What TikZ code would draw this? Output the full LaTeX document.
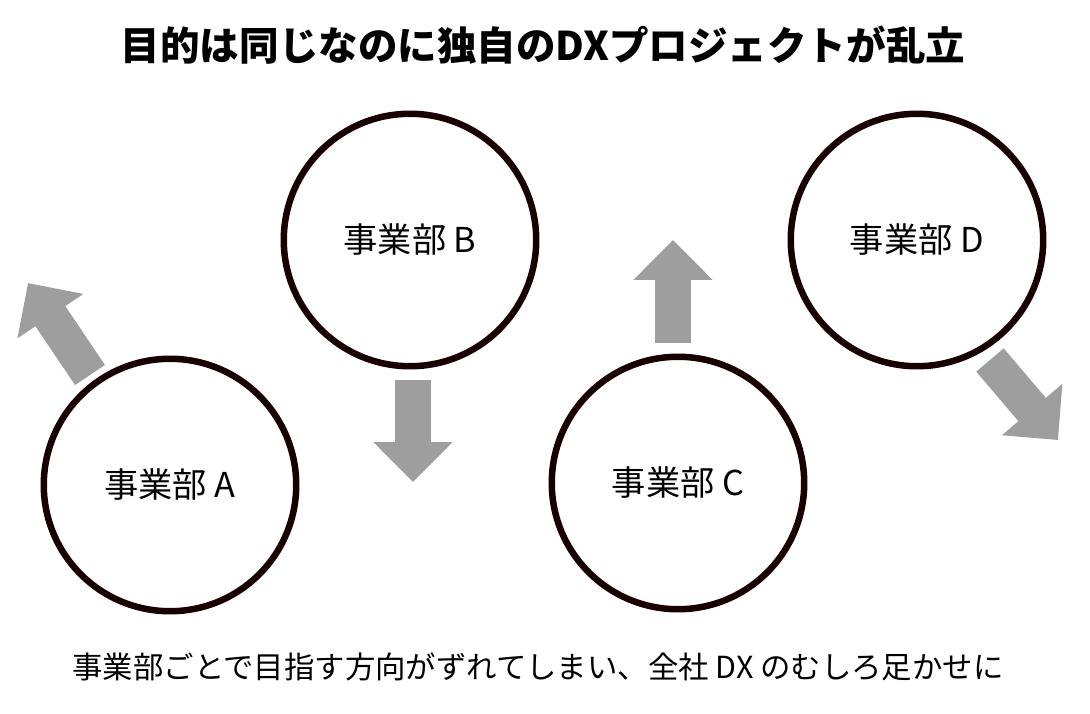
\documentclass[tikz,border=0pt]{standalone}
\usepackage{fontspec}
\setmainfont{Noto Sans CJK JP}
\usetikzlibrary{arrows.meta}
\tikzset{
    dept/.style={circle, draw=black!90!red, line width=1.3mm, minimum size=5.05cm, inner sep=0pt, font=\fontsize{19.5}{22}\selectfont},
    drift/.style={draw=black!38, line width=7.2mm, -{Triangle[width=15.4mm, length=8mm]}},
}
\begin{document}
\begin{tikzpicture}[x=0.02cm, y=-0.02cm]
    \useasboundingbox (0,0) rectangle (1090,714);

    \node[font=\fontsize{22.5}{26}\selectfont\bfseries] (title) at (543,45) {目的は同じなのに独自のDXプロジェクトが乱立};

    \node[dept] (A) at (170,485) {事業部 A};
    \node[dept] (B) at (410,240) {事業部 B};
    \node[dept] (C) at (678,483) {事業部 C};
    \node[dept] (D) at (917,240) {事業部 D};

    % arrows
    \coordinate (a0) at (90,375);  \coordinate (a1) at (28,283);
    \coordinate (b0) at (413,380); \coordinate (b1) at (413,482);
    \coordinate (c0) at (673,343); \coordinate (c1) at (673,240);
    \coordinate (d0) at (990,360); \coordinate (d1) at (1058,440);
    \draw[drift] (a0) -- (a1);
    \draw[drift] (b0) -- (b1);
    \draw[drift] (c0) -- (c1);
    \draw[drift] (d0) -- (d1);

    \node[font=\fontsize{17.3}{20}\selectfont] (note) at (538,667) {事業部ごとで目指す方向がずれてしまい、全社 DX のむしろ足かせに};
\end{tikzpicture}
\end{document}
